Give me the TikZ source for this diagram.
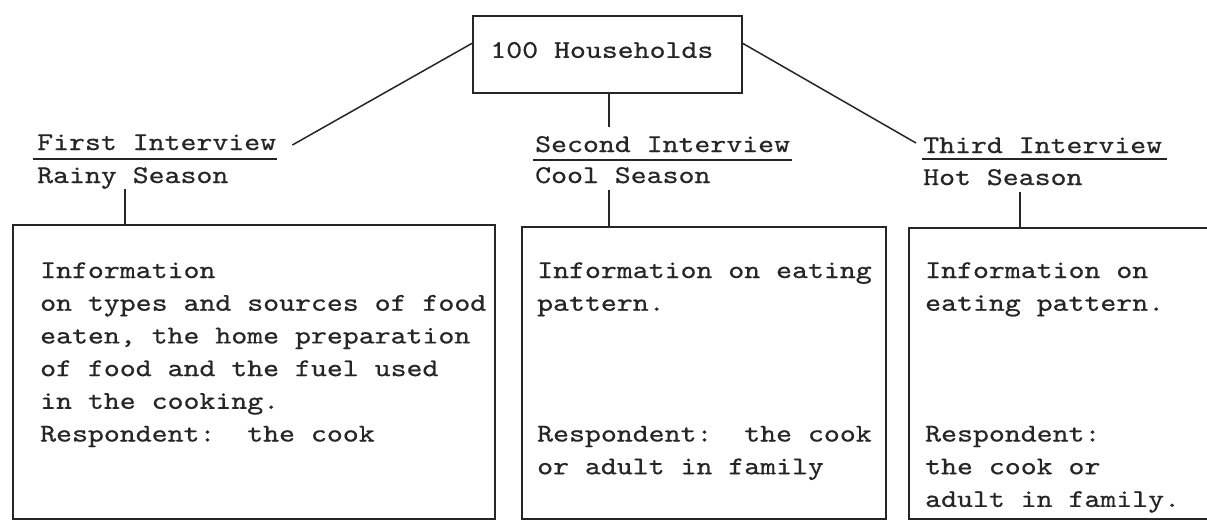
\documentclass[tikz,border=0pt]{standalone}
\usepackage{fontspec}
\usetikzlibrary{calc}
% typewriter face, widened to a 16pt character pitch
\newfontfamily\tw[FakeStretch=1.19,FakeBold=0.6]{lmmono10-regular.otf}
\definecolor{ink}{RGB}{38,38,38}
\begin{document}
\begin{tikzpicture}[x=1pt,y=-1pt,
  every node/.style={text=ink},
  txt/.style={font=\tw\fontsize{25.5}{32.7}\selectfont, inner sep=0pt, align=left, anchor=base west},
  rule/.style={draw=ink, line width=1.6pt},
  wire/.style={draw=ink, line width=1.5pt},
  infobox/.style={draw=ink, line width=1.7pt}]
\useasboundingbox[fill=white] (0,0) rectangle (1207,520);

% top box
\node[draw=ink, line width=1.7pt, font=\tw\fontsize{25.5}{32.7}\selectfont,
      minimum width=269pt, minimum height=77pt, text height=16pt, text depth=9pt,
      anchor=north west] (hh) at (472,15) {100 Households\kern11pt};

% interview headings
\node[txt] (h1) at (37,150) {First Interview};
\node[txt] (s1) at (37,183) {Rainy Season};
\node[txt] (h2) at (535,152) {Second Interview};
\node[txt] (s2) at (535,183) {Cool Season};
\node[txt] (h3) at (923,153) {Third Interview};
\node[txt] (s3) at (923,185) {Hot Season};

% underlines
\draw[rule] ($(h1.base west)+(-4,9)$) -- ($(h1.base east)+(1,9)$);
\draw[rule] ($(h2.base west)+(-2,8)$) -- ($(h2.base east)+(2,8)$);
\draw[rule] ($(h3.base west)+(-1,6)$) -- ($(h3.base east)+(5,6)$);

% branches from the top box
\coordinate (e1) at ($(h1.base east)+(16,-5)$);
\coordinate (e3) at ($(h3.base west)+(-7,-10)$);
\coordinate (e2) at ($(h2.base west)+(74,-25)$);
\draw[wire] ($(hh.north west)!0.36!(hh.south west)$) -- (e1);
\draw[wire] ($(hh.north east)!0.36!(hh.south east)$) -- (e3);
\draw[wire] (hh.south -| e2) -- (e2);

% information boxes
\node[infobox, minimum width=482pt, minimum height=294pt, anchor=north west] (b1) at (12,224) {};
\node[infobox, minimum width=364pt, minimum height=292pt, anchor=north west] (b2) at (521,226) {};
\node[infobox, minimum width=320pt, minimum height=291pt, anchor=north west] (b3) at (908,227) {};

% ticks from season labels to boxes
\draw[wire] ($(s1.base west)+(88,6)$) -- (b1.north -| {$(s1.base west)+(88,6)$});
\draw[wire] (b2.north -| e2) ++(0,-36) -- (b2.north -| e2);
\draw[wire] ($(s3.base west)+(97,7)$) -- (b3.north -| {$(s3.base west)+(97,7)$});

% box texts (a multi-line node sits on the baseline of its last line)
\node[txt] (t1) at (40,441.5) {Information\\on types and sources of food\\eaten, the home preparation\\of food and the fuel used\\in the cooking.\\Respondent:\ \ the cook};
\node[txt] (t2) at (537,474.2) {Information on eating\\pattern.\\[98.1pt]Respondent:\ \ the cook\\or adult in family};
\node[txt] (t3) at (925,506.9) {Information on\\eating pattern.\\[98.1pt]Respondent:\\the cook or\\adult in family.};
\end{tikzpicture}
\end{document}
